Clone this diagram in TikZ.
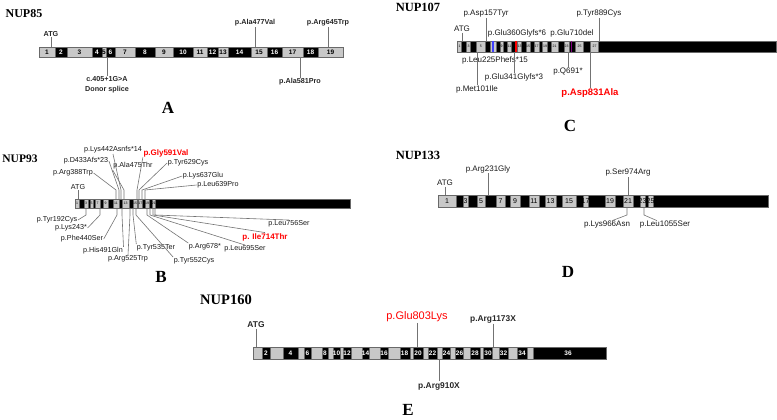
\documentclass[tikz,border=0pt]{standalone}
\usepackage{fontspec}
\setmainfont{Liberation Serif}
\setsansfont{Liberation Sans}
\usetikzlibrary{positioning}
\definecolor{exgray}{RGB}{200,200,200}
\definecolor{exline}{RGB}{105,105,105}
\definecolor{tickgray}{RGB}{115,115,115}
\tikzset{
  gene/.style={font=\bfseries\fontsize{#1}{#1}\selectfont, inner sep=0pt},
  gene/.default=12,
  panel/.style={font=\bfseries\fontsize{17}{17}\selectfont, inner sep=0pt},
  bar/.style={draw=exline, fill=black, line width=0.6pt},
  exon/.style={draw=exline, fill=exgray, line width=0.5pt},
  num/.style={font=\sffamily\bfseries\fontsize{6.5}{6.5}\selectfont, inner sep=0pt},
  small/.style={font=\sffamily\fontsize{3.5}{3.5}\selectfont, inner sep=0pt},
  mutA/.style={font=\sffamily\bfseries\fontsize{7.2}{10}\selectfont, inner sep=0.5pt, text=black!85},
  mut/.style={font=\sffamily\fontsize{#1}{#1}\selectfont, inner sep=0.5pt, text=black!90},
  mut/.default=8,
  mutE/.style={font=\sffamily\bfseries\fontsize{8.4}{8.4}\selectfont, inner sep=0.5pt, text=black!85},
  hot/.style={font=\sffamily\bfseries\fontsize{#1}{#1}\selectfont, inner sep=0.5pt, text=red},
  hot/.default=8,
  tick/.style={draw=tickgray, line width=0.6pt}
}

\begin{document}
\begin{tikzpicture}[x=1pt,y=-1pt]
  \useasboundingbox (0,0) rectangle (777,420);

  % NUP85 (A)
  \node[gene] (n85) at (24,14) {NUP85};
  \draw[bar] (39,47) rectangle (343,57);
  \foreach \a/\b/\n in {39/55/1,67/92/3,102/106/5,115/135/7,155/173/9,193/207/11,218/228/13,251/267/15,282/303/17,318/343/19}{
    \draw[exon] (\a,47) rectangle (\b,57);
    \node[num] (x85-\n) at ({(\a+\b)/2},52) {\n};}
  \foreach \x/\n in {61/2,97/4,110.5/6,145/8,183/10,212.5/12,239.5/14,274.5/16,310.5/18}
    \node[num,text=white] (x85-\n) at (\x,52) {\n};
  \coordinate (t85) at (0,47);
  \coordinate (b85) at (0,57);
  \node[mutA] (atg85) at (51,34) {ATG};
  \node[mutA] (a477) at (255,23) {p.Ala477Val};
  \node[mutA] (r645) at (328,23) {p.Arg645Trp};
  \node[mutA, align=center] (c405) at (107,85) {c.405+1G>A\\Donor splice};
  \node[mutA] (a581) at (300,82) {p.Ala581Pro};
  \foreach \m in {atg85,a477,r645} \draw[tick] (\m.south) -- (\m.south |- t85);
  \foreach \m in {c405,a581} \draw[tick] (\m.north) -- (\m.north |- b85);
  \node[panel] (pA) at (168,108) {A};

  % NUP107 (C)
  \node[gene=12.5] (n107) at (418,7) {NUP107};
  \draw[bar] (457,41) rectangle (776,52);
  \foreach \a/\b/\n in {457.3/461.7/1,466.7/470.7/3,476.7/485/5,490/496/7,500/503.3/9,507.3/511.7/11,517.3/521.7/13,526/530/15,534.3/539/17,542.7/547.3/19,551/558.3/21,564/569/23,575.7/583.3/25,590.7/598.3/27}{
    \draw[exon] (\a,41) rectangle (\b,52);
    \node[small] (x107-\n) at ({(\a+\b)/2},46.5) {\n};}
  \fill[blue!75] (491.5,41.3) rectangle (493.5,51.7);
  \fill[red] (515,41.3) rectangle (517,51.7);
  \fill[violet] (570.5,41.3) rectangle (572,51.7);
  \coordinate (t107) at (0,41);
  \coordinate (b107) at (0,52);
  \node[mut] (atg107) at (462,29) {ATG};
  \node[mut] (d157) at (486,14) {p.Asp157Tyr};
  \node[mut] (e360) at (517,33) {p.Glu360Glyfs*6};
  \node[mut] (e710) at (572,33) {p.Glu710del};
  \node[mut] (y889) at (599,14) {p.Tyr889Cys};
  \node[mut] (l225) at (495,60) {p.Leu225Phefs*15};
  \node[mut] (e341) at (514,77) {p.Glu341Glyfs*3};
  \node[mut] (m101) at (477,89) {p.Met101Ile};
  \node[mut] (q691) at (568,72) {p.Q691*};
  \node[hot=9.5] (d831) at (590,93) {p.Asp831Ala};
  \foreach \m in {atg107,d157,y889} \draw[tick] (\m.south) -- (\m.south |- t107);
  \foreach \m in {e341,m101,q691,d831} \draw[tick] (\m.north) -- (\m.north |- b107);
  \node[panel] (pC) at (570,126) {C};

  % NUP93 (B)
  \node[gene=11.5] (n93) at (20,159) {NUP93};
  \draw[bar] (75,199) rectangle (350,208);
  \foreach \a/\b/\n in {75/79/1,84/88/3,90/93/5,95/100/7,103/108/9,113/119/11,122/129/13,133/137/15,138.5/142/17,145/149/19,152/155.5/21}{
    \draw[exon] (\a,199) rectangle (\b,208);
    \node[small] (x93-\n) at ({(\a+\b)/2},203.5) {\n};}
  \coordinate (t93) at (0,199);
  \coordinate (b93) at (0,208);
  \node[mut=7.2] (atg93) at (78,187) {ATG};
  \node[mut=7.2] (r388) at (73,173) {p.Arg388Trp};
  \node[mut=7.2] (d433) at (86,161) {p.D433Afs*23};
  \node[mut=7.2] (k442) at (113,150) {p.Lys442Asnfs*14};
  \node[mut=7.2] (a475) at (133,166) {p.Ala475Thr};
  \node[hot] (g591) at (166,153) {p.Gly591Val};
  \node[mut=7.2] (y629) at (188,163) {p.Tyr629Cys};
  \node[mut=7.2] (k637) at (203,176) {p.Lys637Glu};
  \node[mut=7.2] (l639) at (218,185) {p.Leu639Pro};
  \draw[tick] (atg93.south) -- (atg93.south |- t93);
  \foreach \m/\x in {r388.east/116,d433.east/119,k442.south/121,a475.south west/124,g591.south west/137,y629.west/139,k637.west/142,l639.west/145}
    \draw[tick] (\m) -- (\x,190) -- (\x,0 |- t93);
  \node[mut=7.2] (y192) at (57,220) {p.Tyr192Cys};
  \node[mut=7.2] (k243) at (71,228) {p.Lys243*};
  \node[mut=7.2] (f440) at (82,239) {p.Phe440Ser};
  \node[mut=7.2] (h491) at (103,251) {p.His491Gln};
  \node[mut=7.2] (r525) at (128,259) {p.Arg525Trp};
  \node[mut=7.2] (y535) at (156,248) {p.Tyr535Ter};
  \node[mut=7.2] (y552) at (194,261) {p.Tyr552Cys};
  \node[mut=7.2] (r678) at (205,247) {p.Arg678*};
  \node[mut=7.2] (l695) at (245,249) {p.Leu695Ser};
  \node[hot] (i714) at (265,237) {p. Ile714Thr};
  \node[mut=7.2] (l756) at (289,224) {p.Leu756Ser};
  \foreach \m/\x in {y192.east/86,k243.east/100,f440.east/117,h491.north east/122,r525.north/130,y535.north west/133,y552.north west/136,r678.north west/147,l695.north/150,i714.north/153,l756.north/155}
    \draw[tick] (\x,0 |- b93) -- (\x,215) -- (\m);
  \node[panel] (pB) at (161,277) {B};

  % NUP133 (D)
  \node[gene=12.5] (n133) at (418,155) {NUP133};
  \draw[bar] (438,195) rectangle (768,207);
  \foreach \a/\b/\n in {438/456/1,463/468/3,477/485/5,496/505/7,510/520/9,529/539/11,545/556/13,562/576/15,583/588/17,605/615/19,623/633/21,640/645/23,648/653/25}{
    \draw[exon] (\a,195) rectangle (\b,207);
    \node[num,font=\sffamily\fontsize{7}{7}\selectfont] (x133-\n) at ({(\a+\b)/2},201) {\n};}
  \coordinate (t133) at (0,195);
  \coordinate (b133) at (0,207);
  \node[mut] (atg133) at (445,183) {ATG};
  \node[mut] (r231) at (488,169) {p.Arg231Gly};
  \node[mut] (s974) at (628,173) {p.Ser974Arg};
  \node[mut] (k966) at (607,225) {p.Lys966Asn};
  \node[mut] (l1055) at (665,225) {p.Leu1055Ser};
  \foreach \m in {atg133,r231,s974} \draw[tick] (\m.south) -- (\m.south |- t133);
  \draw[tick] (627,0 |- b133) -- (627,215) -- ([xshift=5pt]k966.north);
  \draw[tick] (644,0 |- b133) -- (644,215) -- ([xshift=-8pt]l1055.north);
  \node[panel] (pD) at (568,272) {D};

  % NUP160 (E)
  \node[gene=14.5] (n160) at (226,300) {NUP160};
  \draw[bar] (253,347) rectangle (606,359);
  \foreach \a/\b in {253/262,270/283,298/304,311/322,328/333,340/343,351/362,369/380,388/400,410/413,423/428,437/442,450/455,463/470,480/483,492/499,508/517,527/533}
    \draw[exon] (\a,347) rectangle (\b,359);
  \foreach \x/\n in {266/2,290.5/4,307.5/6,325/8,336.5/10,347/12,365.5/14,384/16,404.5/18,418/20,432.5/22,446.5/24,459.5/26,475/28,488/30,503.5/32,522/34,568/36}
    \node[num,text=white] (x160-\n) at (\x,353) {\n};
  \coordinate (t160) at (0,347);
  \coordinate (b160) at (0,359);
  \node[mutE] (atg160) at (256,325) {ATG};
  \node[mut=11, text=red] (e803) at (417,317) {p.Glu803Lys};
  \node[mutE] (r1173) at (493,319) {p.Arg1173X};
  \node[mutE] (r910) at (439,386) {p.Arg910X};
  \foreach \m in {atg160,e803,r1173} \draw[tick] (\m.south) -- (\m.south |- t160);
  \draw[tick] (r910.north) -- (r910.north |- b160);
  \node[panel] (pE) at (408,410) {E};
\end{tikzpicture}
\end{document}
